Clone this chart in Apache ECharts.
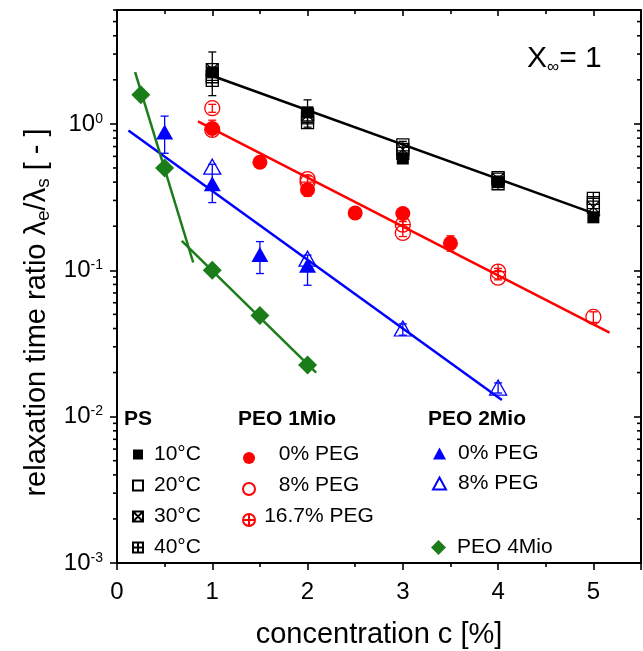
<!DOCTYPE html>
<html><head><meta charset="utf-8">
<script src="https://cdn.jsdelivr.net/npm/echarts@6/dist/echarts.min.js"></script>
<style>html,body{margin:0;padding:0;background:#fff}#c{width:643px;height:651px}</style>
</head><body><div id="c"></div>
<script>
const FONT = '"Liberation Sans", Arial, sans-serif';

// ---- data ----
const psX = [1, 2, 3, 4, 5];
const ps10 = [2.25, 1.2, 0.58, 0.40, 0.23];
const ps20 = [2.1, 1.1, 0.72, 0.43, 0.29];
const ps30 = [2.35, 1.15, 0.67, 0.42, 0.27];
const ps40 = [1.98, 1.02, 0.63, 0.39, 0.31];

const peo1x0 = [1, 1.5, 2, 2.5, 3, 3.5];
const peo1y0 = [0.93, 0.547, 0.355, 0.246, 0.244, 0.153];
const peo1x8 = [1, 2, 3, 4, 5];
const peo1y8 = [1.28, 0.42, 0.18, 0.089, 0.048];
const peo1x16 = [1, 2, 3, 4];
const peo1y16 = [0.91, 0.40, 0.205, 0.098];

const peo2x0 = [0.5, 1, 1.5, 2];
const peo2y0 = [0.88, 0.39, 0.128, 0.108];
const peo2x8 = [1, 2, 3, 4];
const peo2y8 = [0.51, 0.12, 0.040, 0.0158];

const peo4x = [0.25, 0.5, 1, 1.5, 2];
const peo4y = [1.58, 0.50, 0.10, 0.049, 0.0225];

// error bars: [x, low, high]
const errPS = [[1, 1.56, 3.1], [2, 0.95, 1.46], [3, 0.56, 0.76], [4, 0.38, 0.44], [5, 0.215, 0.31]];
const errPEO1 = [[1, 0.86, 1.06], [1, 1.2, 1.36], [2, 0.32, 0.44], [2.5, 0.232, 0.262], [3, 0.17, 0.215], [3.5, 0.135, 0.172], [4, 0.086, 0.103], [5, 0.044, 0.052]];
const errPEO2 = [[0.5, 0.63, 1.13], [1, 0.29, 0.53], [1.5, 0.095, 0.157], [2, 0.079, 0.127], [3, 0.036, 0.043], [4, 0.0145, 0.017]];

// fitted lines (end points)
const fitPS = [[0.99, 2.14], [5.07, 0.236]];
const fitPEO1 = [[0.85, 1.04], [5.17, 0.0375]];
const fitPEO2 = [[0.12, 0.9], [4.04, 0.013]];
const fitPEO4a = [[0.19, 2.26], [0.80, 0.113]];
const fitPEO4b = [[0.68, 0.159], [2.09, 0.020]];

// axis settings
const xMin = 0, xMax = 5.5, xInterval = 1;
const yMin = 0.001, yMax = 6;

const legendLabels = {
  'PS 10': '10°C', 'PS 20': '20°C', 'PS 30': '30°C', 'PS 40': '40°C',
  'PEO1 0': '0% PEG', 'PEO1 8': '8% PEG', 'PEO1 16.7': '16.7% PEG',
  'PEO2 0': '0% PEG', 'PEO2 8': '8% PEG', 'PEO 4Mio': 'PEO 4Mio'
};

const zip = (xs, ys) => xs.map((x, i) => [x, ys[i]]);

const RED = '#ff0000', BLUE = '#0000ff', GREEN = '#1a7d1a', BLACK = '#000000';

const SQ_X = 'path://M0,0H10V10H0Z M0,0L10,10 M10,0L0,10';
const SQ_P = 'path://M0,0H10V10H0Z M5,0V10 M0,5H10';
const CI_P = 'path://M10,5A5,5,0,1,1,0,5A5,5,0,1,1,10,5Z M5,0V10 M0,5H10';

// minor tick values of the log axis (2..9 x 10^n)
const yMinor = [];
for (let e = -3; e <= 0; e++) for (let k = 2; k <= 9; k++) { const v = k * Math.pow(10, e); if (v <= yMax) yMinor.push([xMin, v]); }

function scatter(name, data, symbol, size, color, open, z) {
  return {
    type: 'scatter', name, data, symbol, symbolSize: size, z: z || 5,
    itemStyle: open ? { color: 'rgba(255,255,255,0)', borderColor: color, borderWidth: 1.3, opacity: 1 }
                    : { color: color, borderColor: color, borderWidth: 0, opacity: 1 },
    emphasis: { disabled: true }, silent: true
  };
}
function fit(data, color) {
  return { type: 'line', data, symbol: 'none', lineStyle: { color, width: 2.5 }, z: 3, silent: true, animation: false };
}
function errSeries(data, color) {
  return {
    type: 'custom', data, encode: { x: 0, y: [1, 2] }, z: 4, silent: true,
    renderItem(params, api) {
      const x = api.value(0);
      const a = api.coord([x, api.value(1)]), b = api.coord([x, api.value(2)]);
      const st = { stroke: color, lineWidth: 1.3 };
      return { type: 'group', children: [
        { type: 'line', shape: { x1: a[0], y1: a[1], x2: b[0], y2: b[1] }, style: st },
        { type: 'line', shape: { x1: a[0] - 4, y1: a[1], x2: a[0] + 4, y2: a[1] }, style: st },
        { type: 'line', shape: { x1: b[0] - 4, y1: b[1], x2: b[0] + 4, y2: b[1] }, style: st }
      ]};
    }
  };
}

const chart = echarts.init(document.getElementById('c'), null, { renderer: 'canvas' });

const legendBase = {
  orient: 'vertical', selectedMode: false, padding: 0,
  formatter: n => legendLabels[n],
  textStyle: { fontFamily: FONT, fontSize: 21, lineHeight: 21, color: '#000' }
};

chart.setOption({
  animation: false,
  backgroundColor: '#fff',
  grid: { left: 117, top: 10, width: 524, height: 553, containLabel: false, outerBoundsMode: 'none' },
  xAxis: [{
    type: 'value', min: xMin, max: xMax, interval: xInterval, position: 'bottom',
    name: 'concentration c [%]', nameLocation: 'middle', nameGap: 57,
    nameTextStyle: { fontFamily: FONT, fontSize: 29, color: '#000' },
    axisLine: { show: true, onZero: false, lineStyle: { color: '#000', width: 2 } },
    axisTick: { show: true, inside: false, length: 7, lineStyle: { color: '#000', width: 1.6 } },
    minorTick: { show: true, splitNumber: 2, length: 4, lineStyle: { color: '#000', width: 1.6 } },
    axisLabel: { fontFamily: FONT, fontSize: 24, color: '#000', margin: 17, showMaxLabel: false,
      formatter: v => (v <= 5 ? String(v) : '') },
    splitLine: { show: false }
  }, {
    type: 'value', min: xMin, max: xMax, interval: xInterval, position: 'top',
    axisLine: { show: true, onZero: false, lineStyle: { color: '#000', width: 2 } },
    axisTick: { show: true, inside: true, length: 6, lineStyle: { color: '#000', width: 1.6 } },
    minorTick: { show: true, splitNumber: 2, length: 4, lineStyle: { color: '#000', width: 1.6 } },
    axisLabel: { show: false }, splitLine: { show: false }
  }],
  yAxis: [{
    type: 'log', logBase: 10, min: yMin, max: yMax, position: 'left',
    name: '{n|relaxation time ratio λ}{sub|e}{n|/λ}{sub|s}{n| [ - ]}', nameLocation: 'middle', nameGap: 62,
    nameTextStyle: { fontFamily: FONT, fontSize: 29, color: '#000', padding: [0, 52, 0, 0],
      rich: { n: { fontFamily: FONT, fontSize: 29, color: '#000' },
              sub: { fontFamily: FONT, fontSize: 19, color: '#000', verticalAlign: 'bottom', padding: [12, 0, 0, 0] } } },
    axisLine: { show: true, onZero: false, lineStyle: { color: '#000', width: 2 } },
    axisTick: { show: true, inside: false, length: 7, lineStyle: { color: '#000', width: 1.6 } },
    minorTick: { show: false },
    axisLabel: { fontFamily: FONT, fontSize: 24, color: '#000', margin: 14, showMaxLabel: false,
      formatter: v => { const l = Math.log10(v); const e = Math.round(l);
        return Math.abs(l - e) > 1e-6 ? '' : '{b|10}{s|' + e + '}'; },
      rich: { b: { fontFamily: FONT, fontSize: 24, color: '#000' },
              s: { fontFamily: FONT, fontSize: 14, color: '#000', verticalAlign: 'top' } } },
    splitLine: { show: false }
  }, {
    type: 'log', logBase: 10, min: yMin, max: yMax, position: 'right',
    axisLine: { show: true, onZero: false, lineStyle: { color: '#000', width: 2 } },
    axisTick: { show: true, inside: true, length: 7, lineStyle: { color: '#000', width: 1.6 } },
    minorTick: { show: false }, axisLabel: { show: false }, splitLine: { show: false }
  }],
  legend: [
    Object.assign({}, legendBase, { data: ['PS 10', 'PS 20', 'PS 30', 'PS 40'], left: 132, top: 440,
      itemWidth: 10, itemHeight: 10, itemGap: 2,
      textStyle: Object.assign({}, legendBase.textStyle, { padding: [0, 0, 8, 6] }) }),
    Object.assign({}, legendBase, { data: ['PEO1 0', 'PEO1 8', 'PEO1 16.7'], left: 242, top: 443.5,
      itemWidth: 12, itemHeight: 12, itemGap: 2,
      formatter: n => '{c|' + legendLabels[n] + '}',
      textStyle: Object.assign({}, legendBase.textStyle, { padding: [0, 0, 8, 0],
        rich: { c: { width: 118, align: 'center', fontFamily: FONT, fontSize: 21, lineHeight: 21 } } }) }),
    Object.assign({}, legendBase, { data: ['PEO2 0', 'PEO2 8'], left: 432, top: 441,
      itemWidth: 13, itemHeight: 12, itemGap: 5,
      textStyle: Object.assign({}, legendBase.textStyle, { padding: [0, 0, 4, 7] }) }),
    Object.assign({}, legendBase, { data: ['PEO 4Mio'], left: 431, top: 533,
      itemWidth: 15, itemHeight: 15, itemGap: 2,
      textStyle: Object.assign({}, legendBase.textStyle, { padding: [0, 0, 8, 6] }) })
  ],
  graphic: [
    { type: 'text', left: 124, top: 409, style: { text: 'PS', font: 'bold 21px ' + FONT, fill: '#000' } },
    { type: 'text', left: 238, top: 409, style: { text: 'PEO 1Mio', font: 'bold 21px ' + FONT, fill: '#000' } },
    { type: 'text', left: 428, top: 409, style: { text: 'PEO 2Mio', font: 'bold 21px ' + FONT, fill: '#000' } },
    { type: 'text', left: 527, top: 44, style: {
        text: '{a|X}{b|∞}{a|= 1}',
        rich: { a: { fontFamily: FONT, fontSize: 30, color: '#000' },
                b: { fontFamily: FONT, fontSize: 17, color: '#000', verticalAlign: 'top', padding: [17, 0, 0, 0] } } } }
  ],
  series: [
    // log-axis minor ticks (left outward, right inward)
    {
      type: 'custom', data: yMinor, encode: { x: 0, y: 1 }, silent: true, z: 10,
      renderItem(params, api) {
        const v = api.value(1);
        const l = api.coord([xMin, v]), r = api.coord([xMax, v]);
        const st = { stroke: '#000', lineWidth: 1.6 };
        return { type: 'group', children: [
          { type: 'line', shape: { x1: l[0] - 4, y1: l[1], x2: l[0], y2: l[1] }, style: st },
          { type: 'line', shape: { x1: r[0] - 4, y1: r[1], x2: r[0], y2: r[1] }, style: st }
        ]};
      }
    },
    fit(fitPS, BLACK), fit(fitPEO1, RED), fit(fitPEO2, BLUE), fit(fitPEO4a, GREEN), fit(fitPEO4b, GREEN),
    errSeries(errPS, BLACK), errSeries(errPEO1, RED), errSeries(errPEO2, BLUE),
    scatter('PS 10', zip(psX, ps10), 'rect', 12, BLACK, false),
    scatter('PS 20', zip(psX, ps20), 'rect', 12, BLACK, true),
    scatter('PS 30', zip(psX, ps30), SQ_X, 12, BLACK, true),
    scatter('PS 40', zip(psX, ps40), SQ_P, 12, BLACK, true),
    scatter('PEO1 0', zip(peo1x0, peo1y0), 'circle', 15, RED, false),
    scatter('PEO1 8', zip(peo1x8, peo1y8), 'circle', 15, RED, true),
    scatter('PEO1 16.7', zip(peo1x16, peo1y16), CI_P, 15, RED, true),
    scatter('PEO2 0', zip(peo2x0, peo2y0), 'triangle', [17, 15], BLUE, false),
    scatter('PEO2 8', zip(peo2x8, peo2y8), 'triangle', [17, 15], BLUE, true),
    scatter('PEO 4Mio', zip(peo4x, peo4y), 'diamond', 19, GREEN, false)
  ]
});
</script></body></html>
